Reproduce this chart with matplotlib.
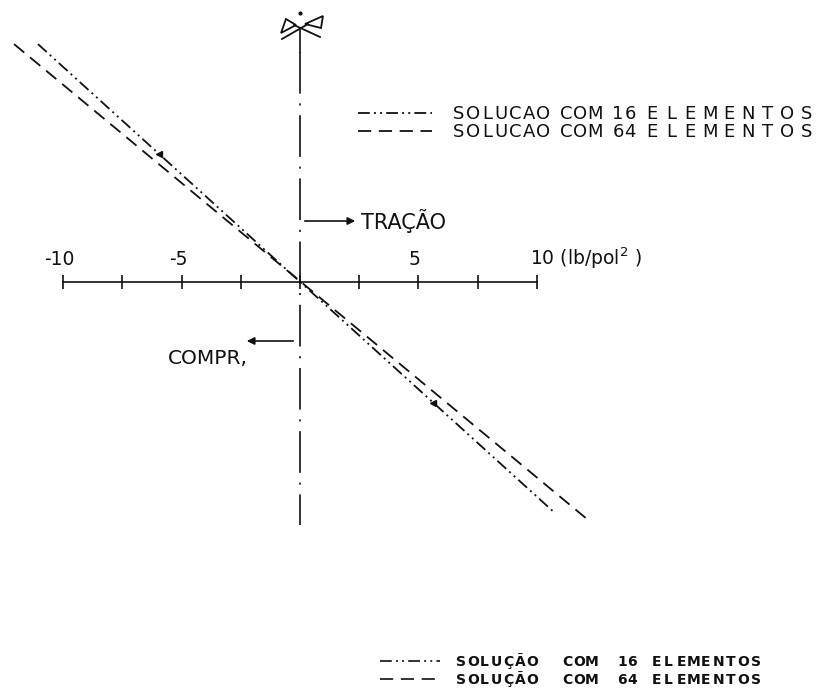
import numpy as np
import matplotlib
matplotlib.use("Agg")
import matplotlib.pyplot as plt
from matplotlib.patches import Polygon

plt.rcParams['font.family'] = ['DejaVu Sans']
plt.rcParams['lines.scale_dashes'] = False

# tensoes (lb/pol2) ao longo da altura da secao
altura_16 = [10.05, -9.76]
tensao_16 = [-11.07, 10.77]
altura_64 = [10.05, -10.01]
tensao_64 = [-12.08, 12.12]

ticks = [-10, -7.5, -5, -2.5, 0, 2.5, 5, 7.5, 10]
tick_vals = [-10, -5, 5]
tick_txt = ['-10', '-5', '5']
setas_altura = [5.4, -5.1]

S = 23.67          # px por unidade
X0, Y0 = 300, 282  # origem em px


def px(x, y):
    return (x - X0) / S, (Y0 - y) / S


def letreiro(ax, x0, x1, y, word, size, weight='normal'):
    step = (x1 - x0) / len(word)
    for i, ch in enumerate(word):
        ax.text(*px(x0 + step * (i + 0.5), y), ch, ha='center', va='baseline',
                fontsize=size, fontweight=weight, color='#111')


fig = plt.figure(figsize=(8.26, 6.9), dpi=100)
ax = fig.add_axes([0, 0, 1, 1])
ax.set_xlim(px(0, 0)[0], px(826, 0)[0])
ax.set_ylim(px(0, 690)[1], px(0, 0)[1])
ax.axis('off')

k = '#111'
dashdot = (0, (8.5, 3, 1.4, 3, 1.4, 3))
dashed = (0, (9.5, 5.5))
center = (0, (30, 7, 1.5, 7))

# eixo horizontal
ax.plot([ticks[0], ticks[-1]], [0, 0], color=k, lw=1.2)
ax.vlines(ticks, -0.28, 0.28, color=k, lw=1.2)
for v, t in zip(tick_vals, tick_txt):
    ax.text(v - 0.15, px(0, 265)[1], t, ha='center', va='baseline', fontsize=13.5, color=k)
ax.text(px(530, 0)[0], px(0, 265)[1], '10 (lb/pol$^{2}$ )', ha='left', va='baseline',
        fontsize=13.5, color=k)

# eixo vertical (linha de centro)
ax.plot([0, 0], [px(0, 52)[1], px(0, 525)[1]], color=k, lw=1.2, linestyle=center)
ax.plot([0, 0], [px(0, 29)[1], px(0, 52)[1]], color=k, lw=1.2)
ax.plot([0], [px(0, 13)[1]], 'o', color=k, ms=2)

# simbolo de corte
ax.plot(*zip(px(282, 39), px(308, 24)), color=k, lw=1.3)
ax.plot(*zip(px(320, 37), px(294, 25)), color=k, lw=1.3)
ax.add_patch(Polygon([px(305, 24), px(323, 16), px(321, 28)], closed=True, fill=False, ec=k, lw=1.3))
ax.add_patch(Polygon([px(296, 25), px(286, 19), px(281, 33)], closed=True, fill=False, ec=k, lw=1.3))

# distribuicoes de tensao
ax.plot(tensao_16, altura_16, color=k, lw=1.3, linestyle=dashdot)
ax.plot(tensao_64, altura_64, color=k, lw=1.3, linestyle=dashed)
xs = np.interp(setas_altura, altura_16[::-1], tensao_16[::-1])
ax.plot(xs, setas_altura, '<', color=k, ms=5)

# tracao / compressao
ax.annotate('', xy=px(358, 221), xytext=px(302, 221),
            arrowprops=dict(arrowstyle='-|>', color=k, lw=1.2, mutation_scale=11))
ax.text(*px(361, 229), 'TRAÇÃO', ha='left', va='baseline', fontsize=15, color=k)
ax.annotate('', xy=px(244, 341), xytext=px(296, 341),
            arrowprops=dict(arrowstyle='-|>', color=k, lw=1.2, mutation_scale=11))
ax.text(*px(168, 364), 'COMPR,', ha='left', va='baseline', fontsize=14.5, color=k)

# legenda superior
ax.plot(*zip(px(358, 113), px(432, 113)), color=k, lw=1.3, linestyle=dashdot)
ax.plot(*zip(px(358, 131), px(432, 131)), color=k, lw=1.3, linestyle=dashed)
for y, n in [(119, '16'), (137, '64')]:
    letreiro(ax, 452, 550, y, 'SOLUCAO', 13)
    letreiro(ax, 559, 602, y, 'COM', 13)
    letreiro(ax, 612, 636, y, n, 13)
    letreiro(ax, 642, 816, y, 'ELEMENTOS', 13)

# legenda inferior
ax.plot(*zip(px(380, 661), px(440, 661)), color=k, lw=1.2, linestyle=dashdot)
ax.plot(*zip(px(380, 679), px(440, 679)), color=k, lw=1.2, linestyle=dashed)
for y, n in [(666, '16'), (684, '64')]:
    letreiro(ax, 455, 538, y, 'SOLUÇÃO', 10, 'bold')
    letreiro(ax, 562, 597, y, 'COM', 10, 'bold')
    letreiro(ax, 617, 637, y, n, 10, 'bold')
    letreiro(ax, 650, 762, y, 'ELEMENTOS', 10, 'bold')

fig.savefig('out.png', dpi=100)
